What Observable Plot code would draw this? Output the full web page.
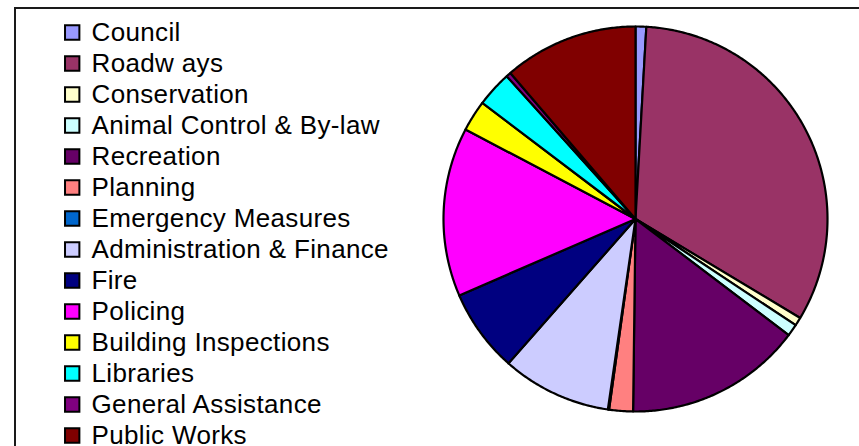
<!DOCTYPE html>
<html>
<head>
<meta charset="utf-8">
<script src="https://cdn.jsdelivr.net/npm/d3@7"></script>
<script src="https://cdn.jsdelivr.net/npm/@observablehq/plot@0.6"></script>
<style>
  html, body { margin: 0; padding: 0; background: #fff; overflow: hidden; }
  #wrap { position: relative; width: 859px; height: 446px; overflow: hidden; background: #fff; }
  #frame { position: absolute; left: 14px; top: 7px; width: 900px; height: 500px; border: 2px solid #1a1a1a; box-sizing: border-box; }
  #legend, #pie { position: absolute; left: 0; top: 0; }
  #legend text { letter-spacing: 0.35px; }
</style>
</head>
<body>
<div id="wrap"><div id="frame"></div><div id="legend"></div><div id="pie"></div></div>
<script>
const categories = ["Council", "Roadw ays", "Conservation", "Animal Control & By-law", "Recreation", "Planning",
  "Emergency Measures", "Administration & Finance", "Fire", "Policing", "Building Inspections", "Libraries",
  "General Assistance", "Public Works"];
const values = [0.9, 32.7, 0.7, 1.0, 14.9, 2.0, 0.1, 9.2, 7.0, 14.2, 2.6, 3.0, 0.4, 11.3];
const colors = ["#9999FF", "#993366", "#FFFFCC", "#CCFFFF", "#660066", "#FF8080", "#0066CC", "#CCCCFF",
  "#000080", "#FF00FF", "#FFFF00", "#00FFFF", "#800080", "#800000"];

const slices = categories.map((name, i) => ({name, value: values[i]}));
const total = d3.sum(values);

// wedge outlines (angle clockwise from 12 o'clock)
const pts = [];
let acc = 0;
slices.forEach(s => {
  const a0 = acc / total * 2 * Math.PI;
  acc += s.value;
  const a1 = acc / total * 2 * Math.PI;
  const n = Math.max(2, Math.ceil((a1 - a0) / (Math.PI / 360)));
  pts.push({name: s.name, x: 0, y: 0});
  for (let k = 0; k <= n; k++) {
    const a = a0 + (a1 - a0) * k / n;
    pts.push({name: s.name, x: Math.sin(a), y: Math.cos(a)});
  }
  pts.push({name: s.name, x: 0, y: 0});
});

const pie = Plot.plot({
  width: 859, height: 446,
  margin: 0,
  x: {domain: [-1, 1], range: [443, 827], axis: null},
  y: {domain: [-1, 1], range: [411, 26], axis: null},
  color: {domain: categories, range: colors},
  style: {background: "transparent"},
  marks: [
    Plot.line(pts, {x: "x", y: "y", z: "name", fill: "name", stroke: "black", strokeWidth: 2.2,
      strokeLinejoin: "round", curve: "linear"})
  ]
});
document.getElementById("pie").appendChild(pie);

const legend = Plot.plot({
  width: 430, height: 446,
  marginLeft: 71.7, marginRight: 0, marginTop: 0, marginBottom: 0,
  y: {type: "band", domain: categories, range: [12.5, 454.3], axis: null},
  color: {domain: categories, range: colors},
  style: {background: "transparent", fontFamily: "'Liberation Sans', Arial, sans-serif"},
  marks: [
    Plot.dot(slices, {y: "name", frameAnchor: "left", symbol: "square", r: 8.1, fill: "name",
      stroke: "black", strokeWidth: 2}),
    Plot.text(slices, {y: "name", text: "name", frameAnchor: "left", dx: 19.3, textAnchor: "start",
      fontSize: 26, fill: "black"})
  ]
});
document.getElementById("legend").appendChild(legend);
</script>
</body>
</html>
